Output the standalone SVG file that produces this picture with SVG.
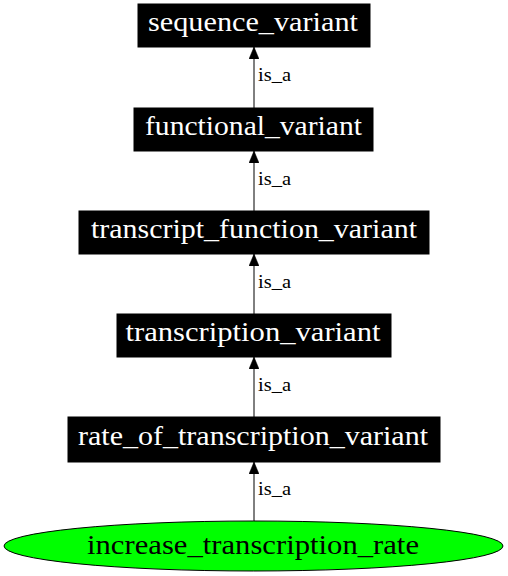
<svg xmlns="http://www.w3.org/2000/svg" width="508" height="576" viewBox="0 0 508 576">
<defs>
<marker id="arr" viewBox="0 0 12 10" refX="12" refY="5" markerWidth="12" markerHeight="10" markerUnits="userSpaceOnUse" orient="auto">
<path d="M0,0 L12,5 L0,10 Z" fill="#000" stroke="#000" stroke-width="0.5"/>
</marker>
<style>
.box{fill:#000;stroke:#000;stroke-width:1}
.lbl{font-family:"Liberation Serif","Times New Roman",serif;font-size:28px;fill:#fff;text-anchor:middle}
.elabel{font-family:"Liberation Serif","Times New Roman",serif;font-size:19px;fill:#000}
.edge{stroke:#000;stroke-width:1;fill:none;marker-end:url(#arr)}
</style>
</defs>
<rect width="508" height="576" fill="#fff"/>
<g id="connectors">
<line class="edge" x1="254" y1="108" x2="254" y2="47"/>
<line class="edge" x1="254" y1="211" x2="254" y2="151"/>
<line class="edge" x1="254" y1="314" x2="254" y2="254"/>
<line class="edge" x1="254" y1="417" x2="254" y2="357"/>
<line class="edge" x1="254" y1="521" x2="254" y2="462"/>
<text class="elabel" x="258" y="81" textLength="33" lengthAdjust="spacingAndGlyphs">is_a</text>
<text class="elabel" x="258" y="185" textLength="33" lengthAdjust="spacingAndGlyphs">is_a</text>
<text class="elabel" x="258" y="288" textLength="33" lengthAdjust="spacingAndGlyphs">is_a</text>
<text class="elabel" x="258" y="391" textLength="33" lengthAdjust="spacingAndGlyphs">is_a</text>
<text class="elabel" x="258" y="495" textLength="33" lengthAdjust="spacingAndGlyphs">is_a</text>
</g>
<g id="sequence_variant">
<rect class="box" x="138" y="4" width="232" height="43"/>
<text class="lbl" x="253" y="31" textLength="210" lengthAdjust="spacingAndGlyphs">sequence_variant</text>
</g>
<g id="functional_variant">
<rect class="box" x="134" y="108" width="239" height="43"/>
<text class="lbl" x="253.5" y="135" textLength="217" lengthAdjust="spacingAndGlyphs">functional_variant</text>
</g>
<g id="transcript_function_variant">
<rect class="box" x="79" y="211" width="350" height="43"/>
<text class="lbl" x="254" y="238" textLength="326" lengthAdjust="spacingAndGlyphs">transcript_function_variant</text>
</g>
<g id="transcription_variant">
<rect class="box" x="117" y="314" width="274" height="43"/>
<text class="lbl" x="253" y="341" textLength="255" lengthAdjust="spacingAndGlyphs">transcription_variant</text>
</g>
<g id="rate_of_transcription_variant">
<rect class="box" x="68" y="417" width="372" height="45"/>
<text class="lbl" x="253" y="445" textLength="350" lengthAdjust="spacingAndGlyphs">rate_of_transcription_variant</text>
</g>
<g id="increase_transcription_rate">
<ellipse cx="253.5" cy="546" rx="249.5" ry="25" fill="#00ff00" stroke="#000" stroke-width="1"/>
<text class="lbl" x="253" y="554" textLength="332" lengthAdjust="spacingAndGlyphs" style="fill:#000">increase_transcription_rate</text>
</g>
</svg>
